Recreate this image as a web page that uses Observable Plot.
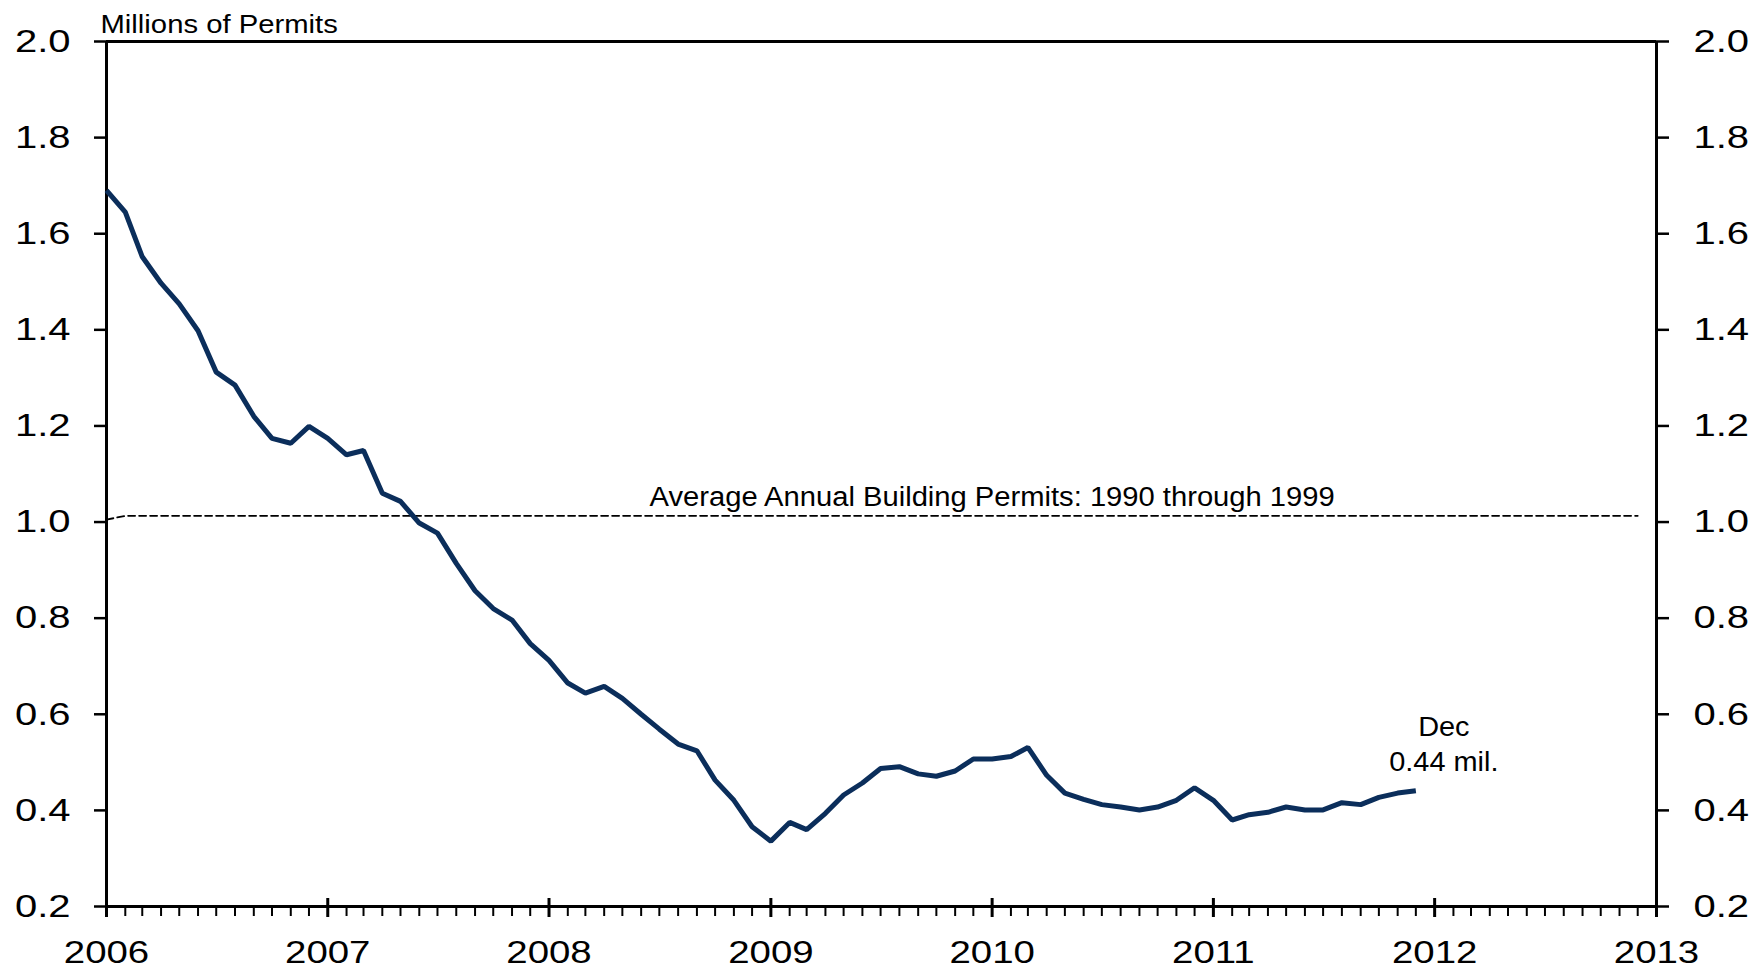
<!DOCTYPE html>
<html>
<head>
<meta charset="utf-8">
<script src="https://cdn.jsdelivr.net/npm/d3@7"></script>
<script src="https://cdn.jsdelivr.net/npm/@observablehq/plot@0.6"></script>
<style>
  html, body { margin: 0; padding: 0; background: #fff; }
  #chart svg { display: block; }
</style>
</head>
<body>
<div id="chart"></div>
<script>
// ---- data (millions of building permits, monthly, SAAR) ----
const years = [2006, 2007, 2008, 2009, 2010, 2011];
const permits2006 = [1.690, 1.645, 1.552, 1.497, 1.454, 1.398, 1.312, 1.285, 1.220, 1.174, 1.164, 1.199];
const permits2007 = [1.174, 1.140, 1.149, 1.060, 1.043, 0.998, 0.977, 0.914, 0.857, 0.820, 0.796, 0.747];
const permits2008 = [0.712, 0.665, 0.644, 0.658, 0.633, 0.600, 0.569, 0.538, 0.524, 0.463, 0.421, 0.366];
const permits2009 = [0.336, 0.375, 0.360, 0.394, 0.432, 0.457, 0.487, 0.491, 0.476, 0.471, 0.482, 0.507];
const permits2010 = [0.507, 0.512, 0.531, 0.473, 0.436, 0.423, 0.412, 0.407, 0.401, 0.407, 0.421, 0.447];
const permits2011 = [0.421, 0.380, 0.391, 0.396, 0.407, 0.401, 0.401, 0.416, 0.412, 0.427, 0.436, 0.441];

// average 1990-1999 reference line
const avgDates = ["2006-01-01", "2006-02-01", "2012-12-01"];
const avgValues = [1.005, 1.013, 1.013];
const avgLabel = "Average Annual Building Permits: 1990 through 1999";
const avgLabelDate = "2010-01-01";

// axes
const yTicks = [0.2, 0.4, 0.6, 0.8, 1.0, 1.2, 1.4, 1.6, 1.8, 2.0];
const xTickYears = [2006, 2007, 2008, 2009, 2010, 2011, 2012, 2013];
const unitsLabel = "Millions of Permits";

// ---- build tables ----
const series = [permits2006, permits2007, permits2008, permits2009, permits2010, permits2011];
const rows = years.flatMap((yr, i) => series[i].map((v, m) => ({date: new Date(Date.UTC(yr, m, 1)), value: v})));
const avgRows = avgDates.map((d, i) => ({date: new Date(d + "T00:00:00Z"), value: avgValues[i]}));
const yearDates = xTickYears.map(y => new Date(Date.UTC(y, 0, 1)));
const monthDates = d3.utcMonths(yearDates[0], yearDates[yearDates.length - 1]).filter(d => d.getUTCMonth() !== 0);
const last = rows[rows.length - 1];

// ---- layout / style ----
const W = 1754, H = 970;
const mL = 106, mR = 98, mT = 41, mB = 64;
const plotW = W - mL - mR, plotH = H - mT - mB;
const ink = "#000";
const navy = "#0b2e5b";
const font = "'Liberation Sans', Arial, Helvetica, sans-serif";

const chart = Plot.plot({
  width: W,
  height: H,
  marginLeft: mL,
  marginRight: mR,
  marginTop: mT,
  marginBottom: mB,
  style: {fontFamily: font, background: "#fff", color: ink},
  x: {type: "utc", domain: [yearDates[0], yearDates[yearDates.length - 1]], axis: null},
  y: {domain: [0.2, 2.0], axis: null},
  marks: [
    // minor monthly ticks (downward)
    Plot.ruleX(monthDates, {x: d => d, stroke: ink, strokeWidth: 2, insetTop: plotH, insetBottom: -10}),
    // major yearly ticks (crossing the axis)
    Plot.ruleX(yearDates, {x: d => d, stroke: ink, strokeWidth: 3, insetTop: plotH - 8, insetBottom: -11}),
    // y ticks left and right
    Plot.ruleY(yTicks, {y: d => d, stroke: ink, strokeWidth: 2.5, insetLeft: -12, insetRight: plotW}),
    Plot.ruleY(yTicks, {y: d => d, stroke: ink, strokeWidth: 2.5, insetLeft: plotW, insetRight: -13}),
    // frame
    Plot.ruleY([0.2, 2.0], {y: d => d, stroke: ink, strokeWidth: 3}),
    Plot.ruleX([yearDates[0], yearDates[yearDates.length - 1]], {x: d => d, stroke: ink, strokeWidth: 3}),
    // average reference line
    Plot.line(avgRows, {x: "date", y: "value", stroke: ink, strokeWidth: 1.8, strokeDasharray: "7,4"}),
    Plot.text([avgLabel], {x: () => new Date(avgLabelDate + "T00:00:00Z"), y: () => avgValues[avgValues.length - 1],
      text: d => d, textAnchor: "middle", lineAnchor: "bottom", dy: -10, fontSize: 27, fill: ink, ariaDescription: "avg-label"}),
    // permits series
    Plot.line(rows, {x: "date", y: "value", stroke: navy, strokeWidth: 5, strokeLinejoin: "miter", strokeLinecap: "butt"}),
    // end annotation
    Plot.text([last], {x: "date", y: "value", text: d => d3.utcFormat("%b")(d.date), textAnchor: "middle",
      lineAnchor: "bottom", dx: 28, dy: -55, fontSize: 27, fill: ink, ariaDescription: "end-label"}),
    Plot.text([last], {x: "date", y: "value", text: d => `${d.value.toFixed(2)} mil.`, textAnchor: "middle",
      lineAnchor: "bottom", dx: 28, dy: -20, fontSize: 27, fill: ink, ariaDescription: "end-label"}),
    // tick labels
    Plot.text(yTicks, {y: d => d, text: d => d3.format(".1f")(d), frameAnchor: "left", textAnchor: "end",
      lineAnchor: "middle", dx: -36, fontSize: 32, fill: ink, ariaDescription: "ytick-label"}),
    Plot.text(yTicks, {y: d => d, text: d => d3.format(".1f")(d), frameAnchor: "right", textAnchor: "start",
      lineAnchor: "middle", dx: 37, fontSize: 32, fill: ink, ariaDescription: "ytick-label"}),
    Plot.text(yearDates, {x: d => d, text: d => String(d.getUTCFullYear()), frameAnchor: "bottom", textAnchor: "middle",
      lineAnchor: "top", dy: 34, fontSize: 32, fill: ink, ariaDescription: "xtick-label"}),
    // units label
    Plot.text([unitsLabel], {text: d => d, frameAnchor: "top-left", textAnchor: "start", lineAnchor: "bottom",
      dx: -6, dy: -9, fontSize: 25, fill: ink, ariaDescription: "units-label"})
  ]
});

document.getElementById("chart").appendChild(chart);

// the original's lettering is slightly wide: stretch glyphs horizontally
const stretch = {"ytick-label": 1.25, "xtick-label": 1.2, "units-label": 1.17, "avg-label": 1.08, "end-label": 1.07};
const sizeFallback = {"32": null, "25": "units-label", "27": null};
chart.querySelectorAll("g").forEach(g => {
  const key = g.getAttribute("aria-description");
  if (!key || !(key in stretch)) return;
  const s = stretch[key];
  g.querySelectorAll("text").forEach(t => {
    const L = t.getComputedTextLength();
    if (!(L > 0)) return;
    t.setAttribute("textLength", (L * s).toFixed(2));
    t.setAttribute("lengthAdjust", "spacingAndGlyphs");
  });
});
</script>
</body>
</html>
